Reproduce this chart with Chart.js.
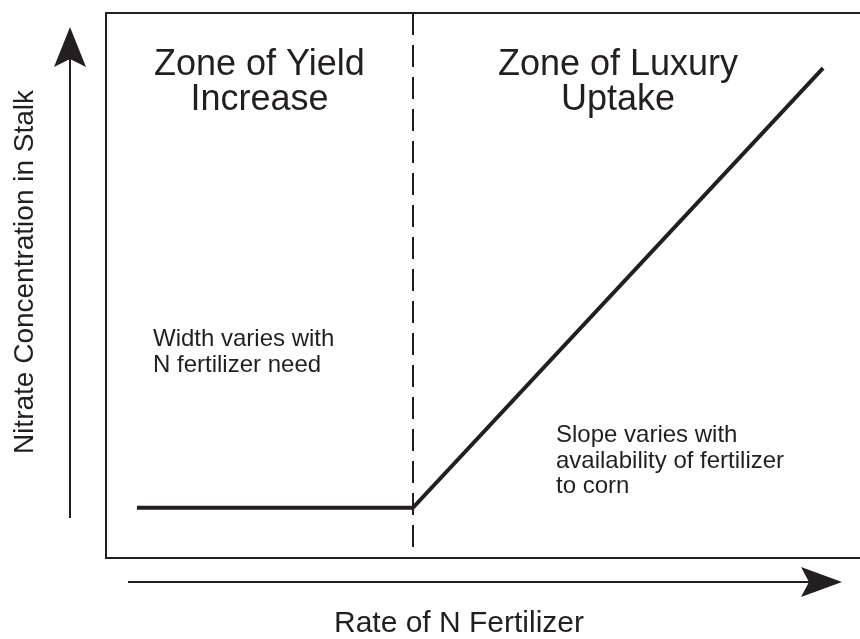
<!DOCTYPE html>
<html>
<head>
<meta charset="utf-8">
<title>Nitrate Concentration in Stalk</title>
<script src="https://cdn.jsdelivr.net/npm/chart.js@4.4.0/dist/chart.umd.min.js"></script>
<style>
  html, body { margin: 0; padding: 0; background: #fff; }
  canvas { display: block; }
</style>
</head>
<body>
<canvas id="nitrateChart" width="860" height="639"></canvas>
<script>
// values (relative units, 0-100 on both axes)
const rateN = [4.1, 40.7, 95.1];
const nitrate = [9.2, 9.2, 89.9];
const zoneBoundary = 40.7;

const zoneTitles = [['Zone of Yield', 'Increase'], ['Zone of Luxury', 'Uptake']];
const noteLeft = ['Width varies with', 'N fertilizer need'];
const noteRight = ['Slope varies with', 'availability of fertilizer', 'to corn'];
const xTitle = 'Rate of N Fertilizer';
const yTitle = 'Nitrate Concentration in Stalk';

const ink = '#231f20';
const font = '"Liberation Sans", Arial, Helvetica, sans-serif';

function arrowHead(ctx, tipX, tipY, dirX, dirY, len, half, notch) {
    // notched arrow head pointing along (dirX, dirY)
    const px = -dirY, py = dirX;
    const bx = tipX - dirX * len, by = tipY - dirY * len;
    ctx.beginPath();
    ctx.moveTo(tipX, tipY);
    ctx.lineTo(bx + px * half, by + py * half);
    ctx.lineTo(tipX - dirX * (len - notch), tipY - dirY * (len - notch));
    ctx.lineTo(bx - px * half, by - py * half);
    ctx.closePath();
    ctx.fill();
}

const decorations = {
    id: 'decorations',
    beforeDatasetsDraw(chart) {
        const { ctx, chartArea: a, scales } = chart;
        ctx.save();
        ctx.strokeStyle = ink;
        ctx.lineWidth = 2;
        // frame: open on the right
        ctx.beginPath();
        ctx.moveTo(a.right + 4, a.top);
        ctx.lineTo(a.left, a.top);
        ctx.lineTo(a.left, a.bottom);
        ctx.lineTo(a.right + 4, a.bottom);
        ctx.stroke();
        // zone boundary
        const bx = Math.round(scales.x.getPixelForValue(zoneBoundary));
        ctx.setLineDash([22, 10]);
        ctx.beginPath();
        ctx.moveTo(bx, a.top);
        ctx.lineTo(bx, a.bottom);
        ctx.stroke();
        ctx.restore();
    },
    afterDraw(chart) {
        const { ctx, chartArea: a, scales } = chart;
        ctx.save();
        ctx.strokeStyle = ink;
        ctx.fillStyle = ink;
        ctx.lineWidth = 2;

        // axis arrows
        const ax = a.left - 36, ay = a.bottom + 24;
        ctx.beginPath();
        ctx.moveTo(ax, a.bottom - 40);
        ctx.lineTo(ax, 55);
        ctx.moveTo(a.left + 22, ay);
        ctx.lineTo(830, ay);
        ctx.stroke();
        arrowHead(ctx, ax, 27, 0, -1, 40, 16, 8);
        arrowHead(ctx, 842, ay, 1, 0, 41, 15, 8);

        // zone titles
        const bx = scales.x.getPixelForValue(zoneBoundary);
        const rightEnd = scales.x.getPixelForValue(rateN[2]);
        ctx.textAlign = 'center';
        ctx.textBaseline = 'alphabetic';
        ctx.font = '36px ' + font;
        const centres = [(a.left + bx) / 2, (bx + rightEnd) / 2];
        zoneTitles.forEach((lines, i) => {
            lines.forEach((t, j) => ctx.fillText(t, centres[i], 75 + j * 35));
        });

        // notes
        ctx.textAlign = 'left';
        ctx.font = '24px ' + font;
        noteLeft.forEach((t, j) => ctx.fillText(t, 153, 346 + j * 26));
        noteRight.forEach((t, j) => ctx.fillText(t, 556, 442 + j * 25.5));

        // axis titles
        ctx.textAlign = 'center';
        ctx.font = '30px ' + font;
        ctx.fillText(xTitle, 459, 632);
        ctx.font = '28px ' + font;
        ctx.translate(33, 272);
        ctx.rotate(-Math.PI / 2);
        ctx.fillText(yTitle, 0, 0);
        ctx.restore();
    }
};

new Chart(document.getElementById('nitrateChart'), {
    type: 'line',
    data: {
        datasets: [{
            data: rateN.map((x, i) => ({ x: x, y: nitrate[i] })),
            borderColor: ink,
            borderWidth: 4,
            borderCapStyle: 'butt',
            borderJoinStyle: 'miter',
            pointRadius: 0,
            tension: 0,
            fill: false
        }]
    },
    options: {
        responsive: false,
        animation: false,
        layout: { padding: { left: 106, top: 13, right: 0, bottom: 81 } },
        plugins: { legend: { display: false }, tooltip: { enabled: false } },
        scales: {
            x: { type: 'linear', min: 0, max: 100, display: false },
            y: { type: 'linear', min: 0, max: 100, display: false }
        }
    },
    plugins: [decorations]
});
</script>
</body>
</html>
